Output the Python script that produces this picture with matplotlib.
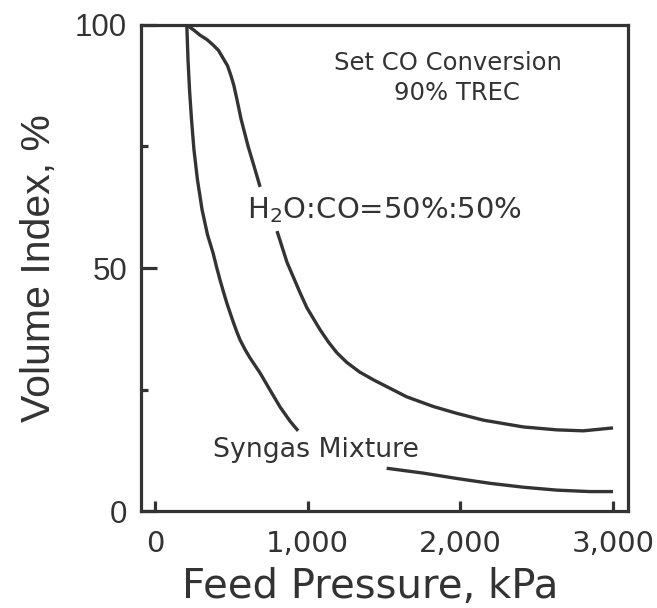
import numpy as np
import matplotlib.pyplot as plt

# H2O:CO = 50%:50% curve (NaN = gap for the label)
h2o_x = [208, 252, 295, 340, 380, 415, 445, 475, 498, 516, 535, 563, 609, 648, 688, np.nan,
         799, 864, 950, 995, 1081, 1135, 1190, 1255, 1340, 1430, 1648, 1823, 1976,
         2150, 2412, 2631, 2805, 3000]
h2o_y = [100, 99.0, 97.9, 97.0, 95.9, 94.8, 93.2, 91.6, 89.5, 87.6, 84.9, 80.7, 75.1, 71.0, 66.7, np.nan,
         57.6, 51.2, 44.9, 41.8, 37.3, 34.8, 32.6, 30.6, 28.6, 27.0, 23.5, 21.5, 20.1,
         18.7, 17.3, 16.7, 16.5, 17.1]

# syngas mixture curve (NaN = gap for the label)
syn_x = [208, 216, 226, 239, 255, 278, 308, 344, 380, 403, 426, 449, 472, 511, 534, 557, 590,
         622, 688, 753, 819, 884, 937, np.nan,
         1517, 1757, 1976, 2194, 2412, 2631, 2849, 3000]
syn_y = [100, 92.8, 86.6, 80.5, 74.3, 68.1, 62.0, 56.8, 53.1, 50.2, 47.5, 45.0, 42.6, 39.0, 37.0, 35.2, 33.2,
         31.5, 28.4, 24.9, 21.4, 18.5, 16.5, np.nan,
         8.8, 7.8, 6.7, 5.7, 4.9, 4.3, 4.0, 4.0]

xticks = [0, 1000, 2000, 3000]
xticklabels = ["0", "1,000", "2,000", "3,000"]
yticks = [0, 50, 100]
yminor = [25, 75]

dark = "#333333"

fig = plt.figure(figsize=(6.57, 6.08), dpi=100)
ax = fig.add_axes([0.2146, 0.1595, 0.7413, 0.7994])

line_kw = dict(color=dark, lw=2.4, solid_capstyle="butt", solid_joinstyle="round")
ax.plot(h2o_x, h2o_y, **line_kw)
ax.plot(syn_x, syn_y, **line_kw)

ax.set_xlim(-92, 3098)
ax.set_ylim(0, 100)

for s in ax.spines.values():
    s.set_color(dark)
    s.set_linewidth(2.3)

ax.set_xticks(xticks)
ax.set_xticklabels(xticklabels, family="DejaVu Sans", fontsize=21, color=dark)
ax.set_yticks(yticks)
ax.set_yticklabels([str(v) for v in yticks], family="Liberation Sans", fontsize=22.5, color=dark)
ax.set_yticks(yminor, minor=True)

ax.tick_params(axis="x", direction="in", length=7, width=2.3, color=dark, pad=14)
ax.tick_params(axis="y", which="major", direction="in", length=11.5, width=2.3, color=dark, pad=10)
ax.tick_params(axis="y", which="minor", direction="in", length=5, width=2.3, color=dark)

ax.set_xlabel("Feed Pressure, kPa", family="DejaVu Sans", fontsize=29, color=dark)
ax.xaxis.set_label_coords(0.470, -0.116)
ax.set_ylabel("Volume Index, %", family="Liberation Sans", fontsize=29.5, color=dark, labelpad=12)

ann = dict(family="DejaVu Sans", color=dark)
ax.text(1919, 90.7, "Set CO Conversion", fontsize=17.5, ha="center", va="baseline", **ann)
ax.text(1978, 84.6, "90% TREC", fontsize=17.5, ha="center", va="baseline", **ann)
ax.text(1506, 60.3, "H$_2$O:CO=50%:50%", fontsize=21, ha="center", va="baseline", **ann)
ax.text(380, 11.1, "Syngas Mixture", fontsize=19.3, ha="left", va="baseline", **ann)

fig.savefig("out.png", dpi=100)
